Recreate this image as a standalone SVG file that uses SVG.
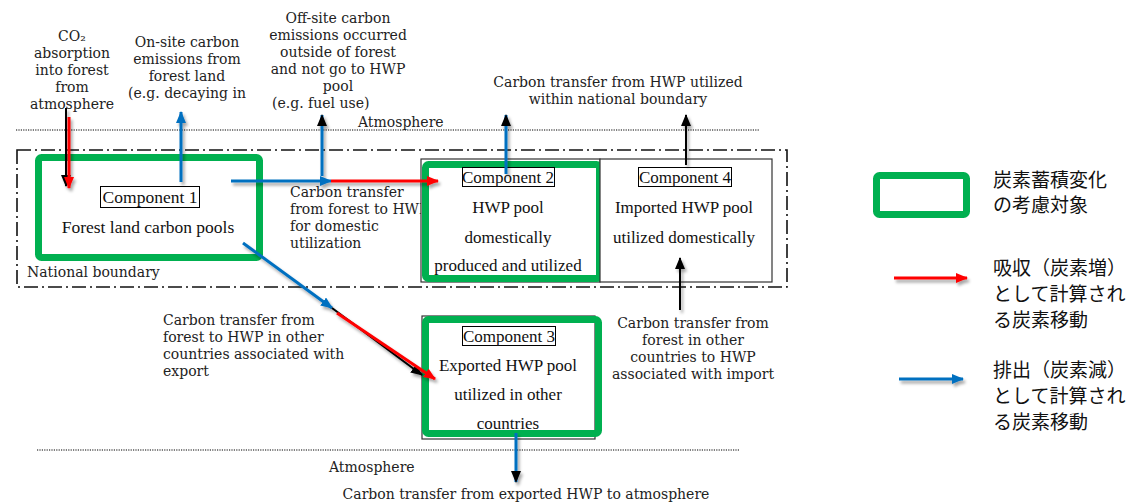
<svg xmlns="http://www.w3.org/2000/svg" width="1133" height="504" viewBox="0 0 1133 504">
  <defs>
    <style>
      .ann { font-family: "DejaVu Serif", "Liberation Serif", serif; font-size: 14px; fill: #222; }
      .mid { text-anchor: middle; }
      .comp { font-family: "Liberation Serif", "Times New Roman", serif; font-size: 17px; fill: #111; text-anchor: middle; }
      .lbl { fill: #fff; stroke: #000; stroke-width: 1; }
      .green { fill: none; stroke: #00B050; stroke-width: 7; }
      .box { fill: #fff; stroke: #333; stroke-width: 1.2; }
      .dot { stroke: #000; stroke-width: 1.2; stroke-dasharray: 1.2 1.2; fill: none; }
      .bound { fill: none; stroke: #111; stroke-width: 1.6; stroke-dasharray: 14 4 2 4; }
      .red { stroke: #FF0000; stroke-width: 3; fill: none; }
      .blue { stroke: #0070C0; stroke-width: 3; fill: none; }
      .blk { stroke: #000; stroke-width: 2; fill: none; }
      .jp { font-family: "Noto Sans CJK JP", "Noto Sans", sans-serif; font-size: 19px; fill: #111; }
    </style>
    <marker id="mRed" markerUnits="userSpaceOnUse" markerWidth="12" markerHeight="10" refX="11" refY="5" orient="auto">
      <path d="M0,0 L12,5 L0,10 z" fill="#FF0000"/>
    </marker>
    <marker id="mBlue" markerUnits="userSpaceOnUse" markerWidth="12" markerHeight="10" refX="11" refY="5" orient="auto">
      <path d="M0,0 L12,5 L0,10 z" fill="#0070C0"/>
    </marker>
    <marker id="mBlk" markerUnits="userSpaceOnUse" markerWidth="12" markerHeight="10" refX="11" refY="5" orient="auto">
      <path d="M0,0 L12,5 L0,10 z" fill="#000"/>
    </marker>
    <filter id="sh" x="-20%" y="-20%" width="140%" height="140%">
      <feDropShadow dx="2" dy="3" stdDeviation="1.8" flood-color="#000" flood-opacity="0.35"/>
    </filter>
  </defs>

  <rect width="1133" height="504" fill="#fff"/>

  <!-- boundaries -->
  <g id="boundaries">
    <line class="dot" x1="16" y1="130" x2="760" y2="130"/>
    <line class="dot" x1="37" y1="450" x2="740" y2="450"/>
    <rect class="bound" x="17" y="150" width="770" height="137"/>
    <text class="ann" x="27" y="277">National boundary</text>
    <text class="ann" x="358" y="127">Atmosphere</text>
    <text class="ann" x="329" y="472">Atmosphere</text>
  </g>

  <!-- annotations -->
  <g id="annotations">
    <text class="ann mid" x="72" y="41">CO₂</text>
    <text class="ann mid" x="72" y="58">absorption</text>
    <text class="ann mid" x="72" y="75">into forest</text>
    <text class="ann mid" x="72" y="92">from</text>
    <text class="ann mid" x="72" y="109">atmosphere</text>

    <text class="ann mid" x="187" y="47">On-site carbon</text>
    <text class="ann mid" x="187" y="64">emissions from</text>
    <text class="ann mid" x="187" y="81">forest land</text>
    <text class="ann mid" x="187" y="98">(e.g. decaying in</text>

    <text class="ann mid" x="338" y="23">Off-site carbon</text>
    <text class="ann mid" x="338" y="40">emissions occurred</text>
    <text class="ann mid" x="338" y="57">outside of forest</text>
    <text class="ann mid" x="338" y="74">and not go to HWP</text>
    <text class="ann mid" x="338" y="91">pool</text>
    <text class="ann" x="272" y="108">(e.g. fuel use)</text>

    <text class="ann mid" x="618" y="87">Carbon transfer from HWP utilized</text>
    <text class="ann mid" x="618" y="104">within national boundary</text>

    <text class="ann" x="290" y="197">Carbon transfer</text>
    <text class="ann" x="290" y="214">from forest to HWP</text>
    <text class="ann" x="290" y="231">for domestic</text>
    <text class="ann" x="290" y="248">utilization</text>

    <text class="ann" x="163" y="325">Carbon transfer from</text>
    <text class="ann" x="163" y="342">forest to HWP in other</text>
    <text class="ann" x="163" y="359">countries associated with</text>
    <text class="ann" x="163" y="376">export</text>

    <text class="ann mid" x="693" y="328">Carbon transfer from</text>
    <text class="ann mid" x="693" y="345">forest in other</text>
    <text class="ann mid" x="693" y="362">countries to HWP</text>
    <text class="ann mid" x="693" y="379">associated with import</text>

    <text class="ann mid" x="526" y="499">Carbon transfer from exported HWP to atmosphere</text>
  </g>

  <!-- Component 1 -->
  <g id="component1">
    <rect class="green" x="38.5" y="157.5" width="221" height="100" rx="3" style="fill:#fff"/>
    <rect class="lbl" x="100.5" y="186.5" width="99" height="21"/>
    <text class="comp" x="150" y="203" style="font-size:17.5px">Component 1</text>
    <text class="comp" x="148" y="233" style="font-size:17.5px">Forest land carbon pools</text>
  </g>

  <!-- Component 2 -->
  <g id="component2">
    <rect class="box" x="421" y="159" width="179" height="123"/>
    <rect class="green" x="425.5" y="164.5" width="174" height="114" rx="3"/>
    <rect class="lbl" x="462.5" y="167.5" width="92" height="19"/>
    <text class="comp" x="508" y="183">Component 2</text>
    <text class="comp" x="508" y="213">HWP pool</text>
    <text class="comp" x="508" y="243">domestically</text>
    <text class="comp" x="508" y="271">produced and utilized</text>
  </g>

  <!-- Component 4 -->
  <g id="component4">
    <rect class="box" x="600" y="159" width="172" height="123"/>
    <rect class="lbl" x="638.5" y="167.5" width="93" height="19"/>
    <text class="comp" x="685" y="183">Component 4</text>
    <text class="comp" x="684" y="213">Imported HWP pool</text>
    <text class="comp" x="684" y="243">utilized domestically</text>
  </g>

  <!-- Component 3 -->
  <g id="component3">
    <rect class="box" x="422" y="316" width="173" height="123"/>
    <rect class="green" x="425.5" y="319.5" width="173" height="114" rx="3"/>
    <rect class="lbl" x="462.5" y="326.5" width="93" height="19"/>
    <text class="comp" x="509" y="342">Component 3</text>
    <text class="comp" x="508" y="371">Exported HWP pool</text>
    <text class="comp" x="508" y="400">utilized in other</text>
    <text class="comp" x="508" y="429">countries</text>
  </g>

  <!-- connectors -->
  <g id="connectors" filter="url(#sh)">
    <line class="blk" x1="66" y1="108" x2="66" y2="186" marker-end="url(#mBlk)"/>
    <line class="red" x1="69" y1="117" x2="69" y2="188" marker-end="url(#mRed)"/>
    <line class="blue" x1="181" y1="182" x2="181" y2="112" marker-end="url(#mBlue)"/>
    <line class="blue" x1="322" y1="176" x2="322" y2="115" marker-end="url(#mBlk)"/>
    <line class="blue" x1="231" y1="181" x2="331" y2="181" marker-end="url(#mBlue)"/>
    <line class="red" x1="331" y1="181" x2="438" y2="181" marker-end="url(#mRed)"/>
    <line class="blue" x1="506" y1="174" x2="506" y2="115" marker-end="url(#mBlk)"/>
    <line class="blk" x1="686" y1="165" x2="686" y2="115" marker-end="url(#mBlk)"/>
    <line class="blk" x1="680" y1="310" x2="680" y2="258" marker-end="url(#mBlk)"/>
    <line class="blue" x1="243" y1="243" x2="332" y2="308" marker-end="url(#mBlue)"/>
    <line class="blk" x1="332" y1="308" x2="422" y2="375" stroke-width="1.5" marker-end="url(#mBlk)"/>
    <line class="red" x1="337" y1="313" x2="435" y2="379" marker-end="url(#mRed)"/>
    <line class="blue" x1="516" y1="433" x2="516" y2="482" marker-end="url(#mBlk)"/>
  </g>

  <!-- legend -->
  <g id="legend">
    <rect class="green" x="876.5" y="175.5" width="90" height="39" rx="3"/>
    <text class="jp" x="993" y="187">炭素蓄積変化</text>
    <text class="jp" x="993" y="212">の考慮対象</text>
    <g filter="url(#sh)">
      <line class="red" x1="894" y1="278" x2="967" y2="278" marker-end="url(#mRed)"/>
      <line class="blue" x1="899" y1="379" x2="963" y2="379" marker-end="url(#mBlue)"/>
    </g>
    <text class="jp" x="993" y="275">吸収（炭素増）</text>
    <text class="jp" x="993" y="301">として計算され</text>
    <text class="jp" x="993" y="327">る炭素移動</text>
    <text class="jp" x="993" y="377">排出（炭素減）</text>
    <text class="jp" x="993" y="403">として計算され</text>
    <text class="jp" x="993" y="429">る炭素移動</text>
  </g>
</svg>
